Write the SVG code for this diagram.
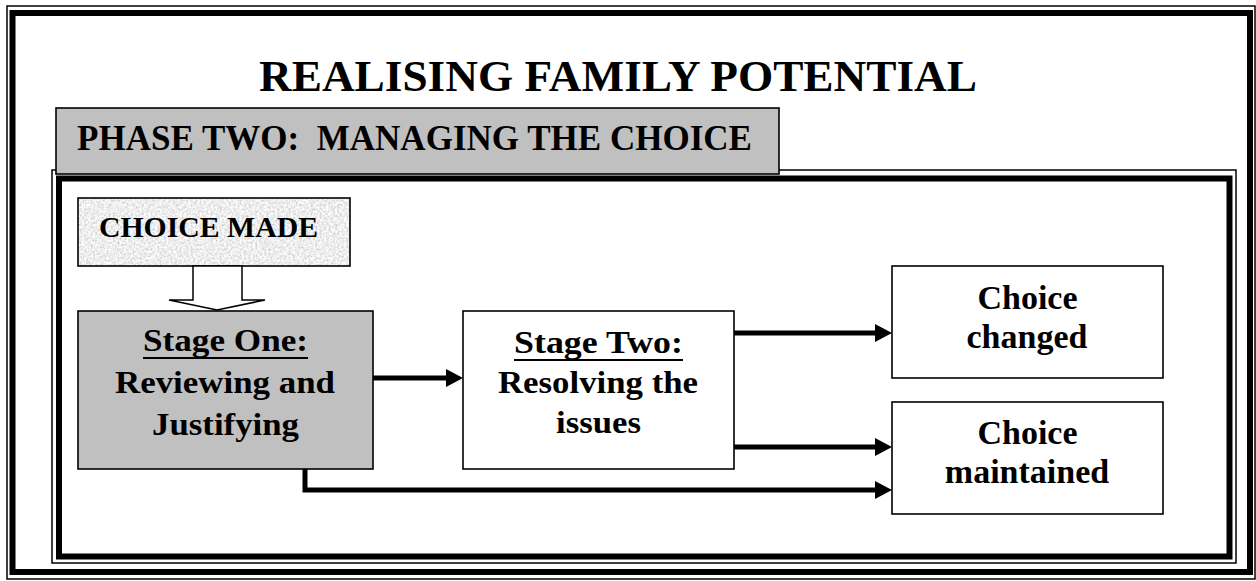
<svg xmlns="http://www.w3.org/2000/svg" width="1256" height="581" viewBox="0 0 1256 581">
<style>
.t{font-family:"Liberation Serif","Times New Roman",serif;font-weight:bold;fill:#000}
.box{stroke:#000;stroke-width:1.6}
.conn{stroke:#000;stroke-width:5;fill:none}
.ul{stroke:#000;stroke-width:2.2}
</style>
<defs>
<marker id="ah" markerUnits="userSpaceOnUse" markerWidth="17" markerHeight="18" viewBox="0 0 17 18" refX="0" refY="9" orient="auto">
<path d="M0,0 L17,9 L0,18 z" fill="#000"/>
</marker>
<filter id="tex" x="0" y="0" width="1" height="1">
<feTurbulence type="fractalNoise" baseFrequency="0.45" numOctaves="3" seed="4" result="n"/>
<feColorMatrix in="n" type="matrix" values="0.7 0 0 0 0.5  0.7 0 0 0 0.5  0.7 0 0 0 0.5  0 0 0 0 1" result="g"/>
<feComposite in="g" in2="SourceGraphic" operator="in"/>
</filter>
</defs>
<rect width="1256" height="581" fill="#fff"/>
<g id="outer-frame" fill="none" stroke="#000">
<rect x="7" y="6" width="1248" height="573" stroke-width="1.5"/>
<rect x="12.5" y="13" width="1237.5" height="559" stroke-width="6"/>
</g>
<g id="title">
<text class="t" x="618" y="91" font-size="45" text-anchor="middle" textLength="718" lengthAdjust="spacingAndGlyphs">REALISING FAMILY POTENTIAL</text>
</g>
<g id="inner-frame" fill="none" stroke="#000">
<rect x="52" y="170" width="1184" height="393" stroke-width="1.5"/>
<rect x="59" y="178.5" width="1170.5" height="378" stroke-width="6"/>
</g>
<g id="phase-tab">
<rect class="box" x="56" y="108" width="723" height="66" fill="#c0c0c0"/>
<text class="t" x="77" y="150" font-size="35" textLength="675" lengthAdjust="spacingAndGlyphs" style="white-space:pre">PHASE TWO:  MANAGING THE CHOICE</text>
</g>
<g id="choice-made">
<rect x="78" y="198" width="272" height="68" fill="#d6d6d6" filter="url(#tex)"/>
<rect class="box" x="78" y="198" width="272" height="68" fill="none"/>
<text class="t" x="99" y="237" font-size="29" textLength="219" lengthAdjust="spacingAndGlyphs">CHOICE MADE</text>
</g>
<g id="connectors">
<polygon points="193,266 242,266 242,300 265,300 217,310 169,300 193,300" fill="#fff" stroke="#000" stroke-width="1.5"/>
<line class="conn" x1="373" y1="378" x2="446" y2="378" marker-end="url(#ah)"/>
<line class="conn" x1="734" y1="333" x2="875" y2="333" marker-end="url(#ah)"/>
<line class="conn" x1="734" y1="447" x2="875" y2="447" marker-end="url(#ah)"/>
<polyline class="conn" points="305,469 305,490 875,490" marker-end="url(#ah)"/>
</g>
<g id="stage-one">
<rect class="box" x="78" y="311" width="295" height="158" fill="#c0c0c0"/>
<text class="t" x="225.5" y="351" font-size="31" text-anchor="middle" textLength="165" lengthAdjust="spacingAndGlyphs">Stage One:</text>
<line class="ul" x1="143" y1="358" x2="308" y2="358"/>
<text class="t" x="225" y="393" font-size="31" text-anchor="middle" textLength="220" lengthAdjust="spacingAndGlyphs">Reviewing and</text>
<text class="t" x="225.5" y="435" font-size="31" text-anchor="middle" textLength="147" lengthAdjust="spacingAndGlyphs">Justifying</text>
</g>
<g id="stage-two">
<rect class="box" x="463" y="311" width="271" height="158" fill="#fff"/>
<text class="t" x="598.5" y="353" font-size="31" text-anchor="middle" textLength="169" lengthAdjust="spacingAndGlyphs">Stage Two:</text>
<line class="ul" x1="514" y1="360" x2="683" y2="360"/>
<text class="t" x="598" y="393" font-size="31" text-anchor="middle" textLength="200" lengthAdjust="spacingAndGlyphs">Resolving the</text>
<text class="t" x="598.5" y="433" font-size="31" text-anchor="middle" textLength="85" lengthAdjust="spacingAndGlyphs">issues</text>
</g>
<g id="choice-changed">
<rect class="box" x="892" y="266" width="271" height="112" fill="#fff"/>
<text class="t" x="1027.5" y="309" font-size="34" text-anchor="middle">Choice</text>
<text class="t" x="1027" y="348" font-size="34" text-anchor="middle">changed</text>
</g>
<g id="choice-maintained">
<rect class="box" x="892" y="402" width="271" height="112" fill="#fff"/>
<text class="t" x="1027.5" y="444" font-size="34" text-anchor="middle">Choice</text>
<text class="t" x="1027" y="483" font-size="34" text-anchor="middle">maintained</text>
</g>
</svg>
